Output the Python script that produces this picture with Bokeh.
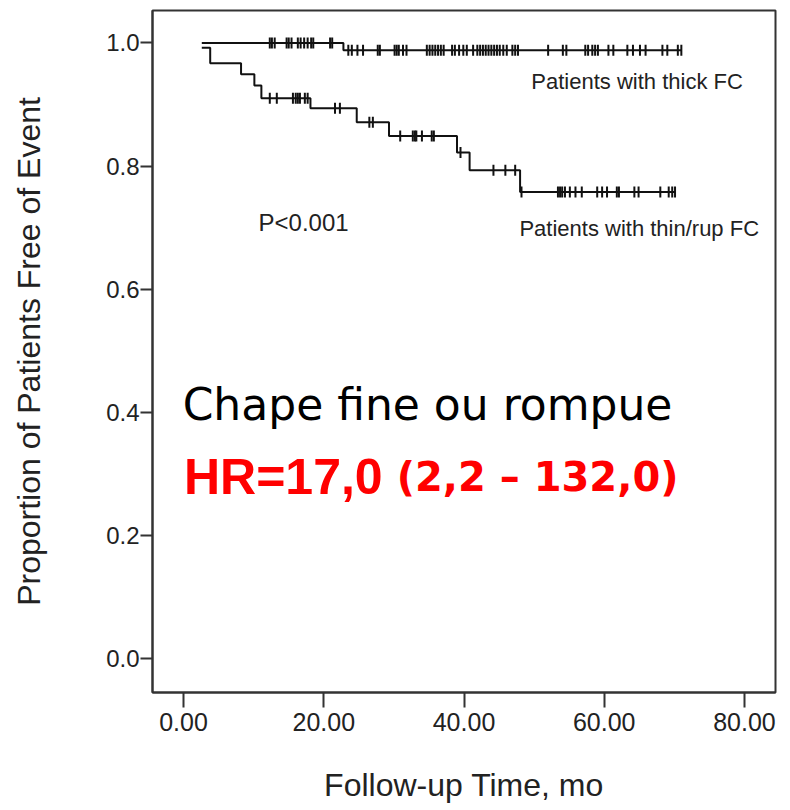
import numpy as np
from bokeh.plotting import figure
from bokeh.models import Label, FixedTicker
from bokeh.embed import file_html
from bokeh.resources import INLINE

# ---------------- data ----------------
x_ticks = [0, 20, 40, 60, 80]
x_tick_labels = ["0.00", "20.00", "40.00", "60.00", "80.00"]
y_ticks = [0.0, 0.2, 0.4, 0.6, 0.8, 1.0]
y_tick_labels = ["0.0", "0.2", "0.4", "0.6", "0.8", "1.0"]

# thick fibrous cap: step start times and survival levels
thick_times = [2.6, 22.8]
thick_surv = [1.0, 0.988]
thick_end = 71.0
thick_censor = [12.3, 12.6, 13.0, 14.7, 15.0, 15.4, 16.3, 16.7, 17.2, 17.7, 18.2, 18.5,
                20.9, 21.2, 23.5, 24.0, 24.8, 25.6, 27.7, 28.0, 30.1, 30.4, 30.7, 31.3,
                31.8, 34.7, 35.1, 35.5, 35.9, 36.3, 36.7, 37.1, 38.3, 38.7, 39.3, 39.9,
                40.4, 41.3, 41.9, 42.3, 42.7, 43.1, 43.5, 43.9, 44.3, 44.7, 45.1, 45.6,
                46.1, 46.9, 47.3, 47.7, 52.0, 54.1, 54.6, 57.3, 57.7, 58.3, 58.7, 59.1,
                60.6, 61.3, 63.3, 64.1, 65.1, 65.9, 68.3, 69.0, 70.5, 71.0]

# thin / ruptured fibrous cap
thin_times = [2.6, 3.8, 8.2, 10.1, 11.1, 18.1, 24.7, 29.3, 39.0, 40.8, 48.0]
thin_surv = [0.992, 0.967, 0.949, 0.931, 0.910, 0.894, 0.871, 0.849, 0.822, 0.793, 0.758]
thin_end = 70.1
thin_censor = [12.3, 13.3, 15.6, 16.0, 16.3, 16.6, 17.3, 17.7, 21.6, 22.3, 26.5, 27.0,
               30.9, 32.7, 33.0, 33.2, 34.0, 35.4, 35.7, 39.5, 44.2, 45.9, 47.3,
               48.2, 53.4, 53.7, 54.0, 54.4, 55.1, 55.9, 56.8, 59.0, 59.7, 60.4,
               61.8, 62.1, 64.3, 64.9, 68.0, 69.2, 69.7, 70.1]

x_title = "Follow-up Time, mo"
y_title = "Proportion of Patients Free of Event"
label_thick = "Patients with thick FC"
label_thin = "Patients with thin/rup FC"
p_text = "P<0.001"
title_text = "Chape fine ou rompue"
hr_main = "HR=17,0"
hr_ci = "(2,2 \u2013 132,0)"

# ---------------- figure ----------------
p = figure(width=790, height=810, x_range=(-4.43, 84.43), y_range=(-0.0553, 1.0527),
           output_backend="svg", toolbar_location=None,
           min_border_left=152, min_border_right=15, min_border_top=10, min_border_bottom=118)
p.background_fill_color = "white"
p.border_fill_color = "white"
p.grid.visible = False
p.outline_line_color = "#333333"
p.outline_line_width = 2
p.outline_line_alpha = 1.0

TXT = "#222222"
FONT = "Liberation Sans"

for ax in (p.xaxis[0], p.yaxis[0]):
    ax.axis_line_color = "#333333"
    ax.axis_line_width = 2
    ax.major_tick_line_color = "#333333"
    ax.major_tick_line_width = 2
    ax.major_tick_in = 0
    ax.minor_tick_line_color = None
    ax.major_label_text_font = FONT
    ax.major_label_text_color = TXT
    ax.major_label_text_font_size = "24px"
    ax.axis_label_text_font = FONT
    ax.axis_label_text_font_size = "32px"
    ax.axis_label_text_font_style = "normal"
    ax.axis_label_text_color = TXT

p.xaxis.ticker = FixedTicker(ticks=x_ticks)
p.xaxis.major_label_overrides = {t: l for t, l in zip(x_ticks, x_tick_labels)}
p.xaxis.major_tick_out = 15
p.xaxis.major_label_standoff = 5
p.xaxis.major_label_text_font_size = "25px"
p.xaxis.axis_label = x_title
p.xaxis.axis_label_standoff = 33

p.yaxis.ticker = FixedTicker(ticks=y_ticks)
p.yaxis.major_label_overrides = {t: l for t, l in zip(y_ticks, y_tick_labels)}
p.yaxis.major_tick_out = 12
p.yaxis.major_label_standoff = 1
p.yaxis.axis_label = y_title
p.yaxis.axis_label_standoff = 56


def km_curve(times, surv, end, censor):
    xs = list(times) + [end]
    ys = list(surv) + [surv[-1]]
    p.step(xs, ys, mode="after", line_color="#111111", line_width=2)
    t = np.asarray(times)
    s = np.asarray(surv)
    c = np.asarray(censor)
    idx = np.searchsorted(t, c, side="right") - 1
    p.scatter(c, s[idx], marker="dash", angle=np.pi / 2, size=11,
              line_color="#111111", line_width=2)


km_curve(thick_times, thick_surv, thick_end, thick_censor)
km_curve(thin_times, thin_surv, thin_end, thin_censor)

p.add_layout(Label(x=49.6, y=0.937, text=label_thick, text_font=FONT, text_font_size="22px",
                   text_color=TXT, text_baseline="middle", text_align="left"))
p.add_layout(Label(x=47.9, y=0.699, text=label_thin, text_font=FONT, text_font_size="22px",
                   text_color=TXT, text_baseline="middle", text_align="left"))
p.add_layout(Label(x=10.7, y=0.709, text=p_text, text_font=FONT, text_font_size="24px",
                   text_color=TXT, text_baseline="middle", text_align="left"))
p.add_layout(Label(x=34.8, y=0.412, text=title_text, text_font="DejaVu Sans", text_font_size="44px",
                   text_color="black", text_baseline="alphabetic", text_align="center"))
p.add_layout(Label(x=28.4, y=0.294, text=hr_main, text_font="Liberation Sans", text_font_size="50px",
                   text_font_style="bold", text_color="#ff0000", text_baseline="alphabetic",
                   text_align="right"))
p.add_layout(Label(x=30.4, y=0.294, text=hr_ci, text_font="DejaVu Sans", text_font_size="40px",
                   text_font_style="bold", text_color="#ff0000", text_baseline="alphabetic",
                   text_align="left"))

open("out.html", "w").write(file_html(p, INLINE))
